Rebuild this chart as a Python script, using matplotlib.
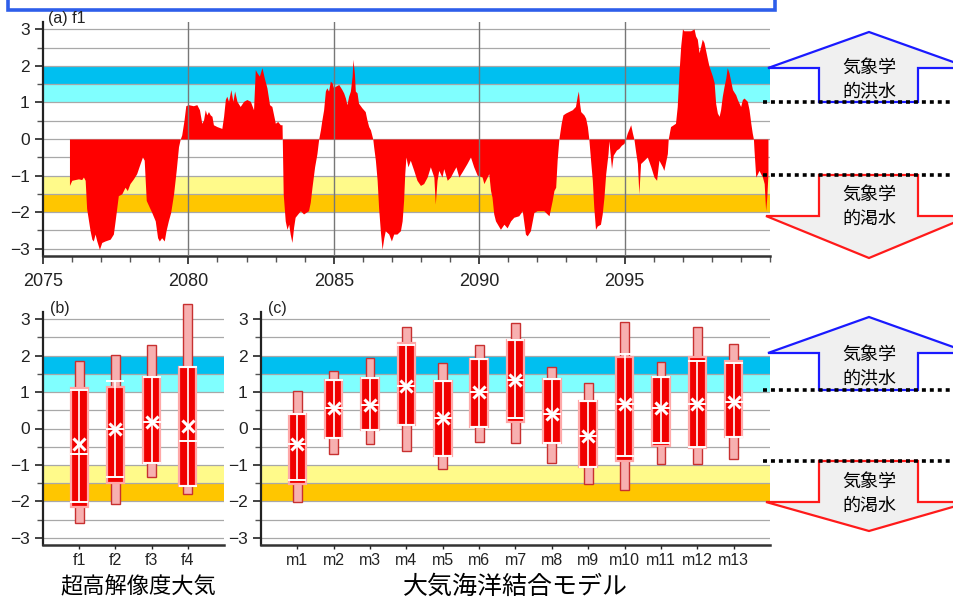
import numpy as np
import matplotlib
matplotlib.use("Agg")
import matplotlib.pyplot as plt
from matplotlib.patches import Polygon, Rectangle


# (a) f1 : time series of the anomaly index
years = [
	2075.91, 2075.99, 2076.10, 2076.22, 2076.33, 2076.39, 2076.45, 2076.50, 2076.62, 2076.68,
	2076.73, 2076.79, 2076.85, 2076.94, 2077.02, 2077.13, 2077.31, 2077.42, 2077.48, 2077.59,
	2077.71, 2077.82, 2077.90, 2077.99, 2078.11, 2078.22, 2078.34, 2078.42, 2078.48, 2078.55,
	2078.63, 2078.74, 2078.86, 2078.94, 2079.00, 2079.08, 2079.17, 2079.23, 2079.31, 2079.39,
	2079.49, 2079.58, 2079.66, 2079.72, 2079.77, 2079.85, 2079.91, 2080.00, 2080.17, 2080.29,
	2080.38, 2080.46, 2080.52, 2080.58, 2080.63, 2080.69, 2080.75, 2080.81, 2080.86, 2080.98,
	2081.15, 2081.21, 2081.27, 2081.32, 2081.38, 2081.46, 2081.53, 2081.59, 2081.67, 2081.78,
	2081.90, 2082.01, 2082.13, 2082.24, 2082.30, 2082.36, 2082.44, 2082.53, 2082.61, 2082.70,
	2082.79, 2082.87, 2082.99, 2083.07, 2083.16, 2083.22, 2083.26,
	2083.33, 2083.39, 2083.45, 2083.50, 2083.56, 2083.62, 2083.67, 2083.85, 2083.96, 2084.13,
	2084.19, 2084.25, 2084.34, 2084.42, 2084.48, 2084.54, 2084.59, 2084.65, 2084.71, 2084.76,
	2084.82, 2084.88, 2084.94, 2084.99, 2085.05, 2085.17, 2085.28, 2085.34, 2085.40, 2085.45,
	2085.51, 2085.57, 2085.63, 2085.66, 2085.71, 2085.74, 2085.80, 2085.85, 2085.97, 2086.08,
	2086.14, 2086.20, 2086.26, 2086.34, 2086.37, 2086.43, 2086.49, 2086.54, 2086.60, 2086.66,
	2086.72, 2086.77, 2086.89, 2086.98, 2087.06, 2087.17, 2087.29, 2087.35, 2087.40, 2087.44,
	2087.48, 2087.55, 2087.63, 2087.75, 2087.86, 2087.98, 2088.09, 2088.21, 2088.32, 2088.44,
	2088.49, 2088.55, 2088.61, 2088.72, 2088.78, 2088.90, 2089.01, 2089.13, 2089.20, 2089.30,
	2089.41, 2089.58, 2089.70, 2089.81, 2089.93, 2090.10, 2090.16, 2090.33, 2090.39, 2090.44,
	2090.50, 2090.56, 2090.73, 2090.85, 2090.96, 2091.08, 2091.19, 2091.36, 2091.48, 2091.59,
	2091.65, 2091.76,
	2091.88, 2091.99, 2092.22, 2092.40, 2092.51, 2092.57, 2092.63, 2092.68, 2092.74, 2092.82,
	2092.88, 2092.97, 2093.20, 2093.31, 2093.37, 2093.41, 2093.45, 2093.49, 2093.60, 2093.66,
	2093.72, 2093.77, 2093.83, 2093.89, 2093.94, 2094.00, 2094.06, 2094.17, 2094.23, 2094.29,
	2094.35, 2094.43, 2094.46, 2094.55, 2094.61, 2094.72, 2094.80, 2094.89, 2094.98, 2095.03,
	2095.09, 2095.21, 2095.27, 2095.32, 2095.38, 2095.44, 2095.49, 2095.55, 2095.67, 2095.78,
	2095.90, 2096.01, 2096.10, 2096.18, 2096.30, 2096.35, 2096.47, 2096.50, 2096.58, 2096.75,
	2096.81, 2096.87, 2096.93, 2096.99, 2097.04, 2097.16, 2097.27, 2097.39, 2097.44, 2097.50,
	2097.56, 2097.62, 2097.67, 2097.73, 2097.85, 2097.90, 2097.96, 2098.02, 2098.08, 2098.13,
	2098.19, 2098.25, 2098.30, 2098.36, 2098.42, 2098.48, 2098.53, 2098.59, 2098.71, 2098.82,
	2098.88, 2098.99, 2099.05, 2099.11, 2099.22, 2099.28, 2099.34, 2099.39, 2099.43, 2099.45,
	2099.51, 2099.57, 2099.62, 2099.74, 2099.80, 2099.85, 2099.89, 2099.93,
]
f1_index = [
	-1.27, -1.13, -1.11, -1.09, -1.11, -1.04, -1.13, -1.90, -2.51, -2.74,
	-2.79, -2.60, -2.79, -3.02, -2.83, -2.79, -2.74, -2.60, -2.24, -1.55,
	-1.50, -1.32, -1.41, -1.22, -1.09, -0.95, -0.67, -0.49, -0.58, -1.68,
	-1.82, -2.01, -2.24, -2.70, -2.79, -2.70, -2.79, -2.51, -2.24, -2.01,
	-1.50, -0.86, -0.21, 0.00, 0.11, 0.52, 0.91, 0.94, 0.91, 0.94,
	0.80, 0.43, 0.52, 0.80, 0.66, 0.75, 0.66, 0.62, 0.39, 0.34,
	0.29, 0.62, 1.08, 1.17, 1.03, 1.35, 1.03, 1.31, 1.03, 0.89,
	1.03, 1.08, 1.03, 0.80, 1.90, 1.81, 1.72, 1.95, 1.67, 1.40,
	0.94, 0.89, 0.43, 0.48, 0.39, 0.39, -1.50,
	-2.24, -2.47, -2.33, -2.60, -2.83, -2.40, -2.14, -1.96, -2.05, -1.96,
	-1.73, -1.32, -0.76, -0.40, 0.00, 0.25, 0.52, 0.80, 1.31, 1.40,
	1.31, 1.58, 1.54, 1.40, 1.44, 1.49, 1.35, 1.26, 1.12, 0.94,
	1.17, 1.31, 1.72, 2.18, 1.77, 1.31, 1.26, 0.98, 0.85, 0.75,
	0.52, 0.34, 0.25, 0.00, -0.21, -0.58, -1.13, -1.87, -2.51, -3.02,
	-2.70, -2.51, -2.60, -2.79, -2.60, -2.60, -2.51, -2.24, -1.68, -0.95,
	-0.49, -0.76, -0.58, -0.86, -1.13, -1.27, -1.22, -1.04, -0.76, -1.04,
	-1.78, -1.13, -0.86, -1.04, -0.81, -1.13, -1.04, -0.86, -0.76, -1.04,
	-0.90, -0.67, -0.49, -0.76, -0.99, -1.04, -1.22, -0.95, -1.41, -1.59,
	-2.05, -2.24, -2.47, -2.33, -2.43, -2.24, -2.14, -2.10, -1.96, -2.60,
	-2.65, -2.51,
	-2.01, -1.96, -1.96, -2.10, -1.68, -1.41, -1.32, -0.58, 0.00, 0.43,
	0.66, 0.71, 0.80, 0.89, 1.17, 1.31, 0.98, 0.75, 0.66, 0.57,
	0.34, 0.00, -0.58, -1.13, -1.87, -2.47, -2.38, -2.33, -2.05, -1.59,
	-0.95, -0.40, -0.05, -0.81, -0.44, -0.30, -0.26, -0.17, -0.12, 0.00,
	0.16, 0.39, 0.16, 0.00, -0.35, -0.67, -1.50, -0.67, -0.58, -0.49,
	-0.76, -1.04, -1.13, -0.58, -0.76, -0.86, -0.40, 0.00, 0.34, 0.43,
	0.89, 1.81, 2.55, 3.01, 2.96, 2.96, 2.96, 3.01, 2.82, 2.73,
	2.36, 2.55, 2.73, 2.64, 2.18, 2.00, 1.86, 1.72, 1.54, 0.98,
	0.71, 0.62, 0.80, 1.17, 1.44, 1.67, 1.95, 1.81, 1.35, 1.21,
	1.08, 0.89, 1.08, 1.12, 1.03, 0.80, 0.43, 0.16, 0.00, -0.30,
	-1.04, -0.95, -0.86, -1.04, -1.22, -1.96, -1.59, -0.95,
]

# (b) high resolution AGCM members
agcm_labels = ["f1", "f2", "f3", "f4"]
agcm_min = [-2.59, -2.08, -1.33, -1.81]
agcm_max = [1.86, 2.03, 2.30, 3.43]
agcm_box_lo = [-2.16, -1.49, -0.96, -1.58]
agcm_box_hi = [1.10, 1.13, 1.42, 1.70]
agcm_cap_lo = [-2.01, -1.33, -0.96, -1.58]
agcm_cap_hi = [1.06, 1.30, 1.42, 1.70]
agcm_median = [-0.71, 0.00, 0.19, -0.34]
agcm_mean = [-0.43, 0.00, 0.19, 0.07]

# (c) coupled models
cgcm_labels = ["m%d" % i for i in range(1, 14)]
cgcm_min = [-2.01, -0.71, -0.43, -0.63, -1.12, -0.36, -0.39, -0.94, -1.52, -1.70, -0.98, -0.98, -0.84]
cgcm_max = [1.02, 1.59, 1.93, 2.78, 1.79, 2.28, 2.90, 1.68, 1.25, 2.92, 1.82, 2.78, 2.32]
cgcm_box_lo = [-1.53, -0.25, -0.05, 0.09, -0.75, 0.03, 0.18, -0.41, -1.07, -0.89, -0.48, -0.54, -0.23]
cgcm_box_hi = [0.39, 1.33, 1.38, 2.34, 1.31, 1.91, 2.42, 1.36, 0.76, 1.96, 1.42, 1.96, 1.85]
cgcm_cap_lo = [-1.42, -0.25, -0.05, 0.09, -0.75, 0.03, 0.30, -0.41, -1.07, -0.75, -0.39, -0.50, -0.23]
cgcm_cap_hi = [0.39, 1.33, 1.38, 2.28, 1.31, 1.91, 2.42, 1.36, 0.76, 2.05, 1.42, 1.86, 1.80]
cgcm_median = [-0.43, 0.56, 0.64, 1.18, 0.30, 0.99, 1.33, 0.41, -0.20, 0.67, 0.56, 0.67, 0.73]
cgcm_mean = [-0.43, 0.56, 0.64, 1.18, 0.30, 0.99, 1.33, 0.41, -0.20, 0.67, 0.56, 0.67, 0.73]

JP = ["Noto Sans CJK JP", "DejaVu Sans"]
plt.rcParams["font.family"] = ["Liberation Sans", "DejaVu Sans"]


def style_panel(ax):
	"""Colour bands, grid and spines shared by all three panels."""
	ax.axhspan(1.0, 1.5, color="#80FFFF", lw=0, zorder=0)
	ax.axhspan(1.5, 2.0, color="#00BFF0", lw=0, zorder=0)
	ax.axhspan(-1.5, -1.0, color="#FFFA8A", lw=0, zorder=0)
	ax.axhspan(-2.0, -1.5, color="#FFC600", lw=0, zorder=0)
	# horizontal grid sits under the red fill
	for v in np.arange(-3, 3.01, 0.5):
		ax.axhline(v, color="#A8A8A8", lw=0.9, zorder=1)
	ax.set_ylim(-3.2, 3.2)
	ax.set_yticks(range(-3, 4))
	ax.set_yticklabels([str(v).replace("-", "\u2212") for v in range(-3, 4)])
	ax.set_yticks(np.arange(-3, 3.01, 0.5), minor=True)
	for s in ["top", "right"]:
		ax.spines[s].set_visible(False)
	ax.spines["left"].set_linewidth(1.6)
	ax.spines["bottom"].set_linewidth(1.8)
	ax.spines["left"].set_color("#222222")
	ax.spines["bottom"].set_color("#333333")
	ax.tick_params(axis="y", which="major", length=6, width=1.2, labelsize=12.5, colors="#222222")
	ax.tick_params(axis="y", which="minor", length=4, width=1.0, color="#555555")
	ax.tick_params(axis="x", labelsize=11.5, colors="#222222")


def draw_boxes(ax, pmin, pmax, blo, bhi, clo, chi, med, mean):
	"""Draws the custom range boxes: pink full range, red box, white whisker and mean."""
	pos = np.arange(1, len(pmin) + 1)
	for i, x in enumerate(pos):
		ax.add_patch(Rectangle((x - 0.12, pmin[i]), 0.24, pmax[i] - pmin[i],
			facecolor="#F7B0B0", edgecolor="#C83030", lw=1.0, zorder=5, clip_on=False))
		ax.add_patch(Rectangle((x - 0.24, blo[i]), 0.48, bhi[i] - blo[i],
			facecolor="#F00000", edgecolor="#FFA8A8", lw=1.6, zorder=6))
		ax.plot([x, x], [clo[i], chi[i]], color="white", lw=1.2, zorder=7)
		for c in (clo[i], chi[i], med[i]):
			ax.plot([x - 0.22, x + 0.22], [c, c], color="white", lw=1.4, zorder=7)
		ax.plot(x, mean[i], marker="x", color="white", ms=8, mew=2.2, zorder=8)
	ax.set_xticks(pos)


fig = plt.figure(figsize=(9.54, 5.99), dpi=100)

# ---- panel (a)
ax1 = fig.add_axes([43 / 954, 1 - 256 / 599, 727 / 954, 234 / 599])
style_panel(ax1)
ax1.fill_between(years, f1_index, 0, color="#FF0000", lw=0, zorder=2)
for yr in [2080, 2085, 2090, 2095]:
	ax1.axvline(yr, color="#777777", lw=1.0, zorder=4)
ax1.set_xlim(2075, 2100)
ax1.set_xticks([2075, 2080, 2085, 2090, 2095])
ax1.set_xticks(range(2075, 2101), minor=True)
ax1.tick_params(axis="x", which="major", length=6, width=1.2, labelsize=13, pad=6)
ax1.tick_params(axis="x", which="minor", length=4, width=1.0, color="#555555")

# ---- panel (b)
ax2 = fig.add_axes([43 / 954, 1 - 545 / 599, 181 / 954, 233 / 599])
style_panel(ax2)
draw_boxes(ax2, agcm_min, agcm_max, agcm_box_lo, agcm_box_hi, agcm_cap_lo, agcm_cap_hi, agcm_median, agcm_mean)
ax2.set_xlim(0, 5)
ax2.set_xticklabels(agcm_labels)
ax2.tick_params(axis="x", length=3, width=1.0, pad=3)

# ---- panel (c)
ax3 = fig.add_axes([261 / 954, 1 - 545 / 599, 509 / 954, 233 / 599])
style_panel(ax3)
draw_boxes(ax3, cgcm_min, cgcm_max, cgcm_box_lo, cgcm_box_hi, cgcm_cap_lo, cgcm_cap_hi, cgcm_median, cgcm_mean)
ax3.set_xlim(0, 14)
ax3.set_xticklabels(cgcm_labels)
ax3.tick_params(axis="x", length=3, width=1.0, pad=3)

# ---- overlay in pixel coordinates for labels, arrows and the title frame
ov = fig.add_axes([0, 0, 1, 1], zorder=20)
ov.set_xlim(0, 954)
ov.set_ylim(599, 0)
ov.axis("off")
ov.patch.set_alpha(0)

ov.add_patch(Rectangle((8, -20), 767, 30, facecolor="white", edgecolor="#2E5EEA", lw=2.6))

ov.text(48, 19, "(a) f1", fontsize=11.5, ha="left", va="center", color="#222222")
ov.text(50, 309, "(b)", fontsize=11.5, ha="left", va="center", color="#222222")
ov.text(268, 309, "(c)", fontsize=11.5, ha="left", va="center", color="#222222")
ov.text(138, 586, "超高解像度大気", fontsize=16, ha="center", va="center", family=JP)
ov.text(515, 587, "大気海洋結合モデル", fontsize=18, ha="center", va="center", family=JP)


def flood_drought(top_dot, top_base, bot_dot, bot_base, up_apex, down_apex, up_text, down_text):
	"""Up (blue) and down (red) block arrows with the dotted threshold lines."""
	up = [(819, top_dot), (819, top_base), (768, top_base), (869, up_apex),
		  (970, top_base), (918, top_base), (918, top_dot)]
	down = [(819, bot_dot), (918, bot_dot), (918, bot_base), (970, bot_base),
			(869, down_apex), (766, bot_base), (819, bot_base)]
	ov.add_patch(Polygon(up, closed=True, facecolor="#F0F0F0", edgecolor="#1A1AFF", lw=1.6))
	ov.add_patch(Polygon(down, closed=True, facecolor="#F0F0F0", edgecolor="#FF1A1A", lw=1.6))
	for yv in (top_dot, bot_dot):
		ov.plot([763, 954], [yv, yv], color="black", lw=2.6, ls=(0, (1.1, 1.1)))
	ov.text(869, up_text, "気象学", fontsize=13, ha="center", va="center", family=JP)
	ov.text(869, up_text + 23, "的洪水", fontsize=13, ha="center", va="center", family=JP)
	ov.text(869, down_text, "気象学", fontsize=13, ha="center", va="center", family=JP)
	ov.text(869, down_text + 24, "的渇水", fontsize=13, ha="center", va="center", family=JP)


flood_drought(102, 68, 175, 216, 32, 258, 68, 195)
flood_drought(390, 353, 461, 502, 317, 531, 355, 482)

fig.savefig("out.png", dpi=100)
